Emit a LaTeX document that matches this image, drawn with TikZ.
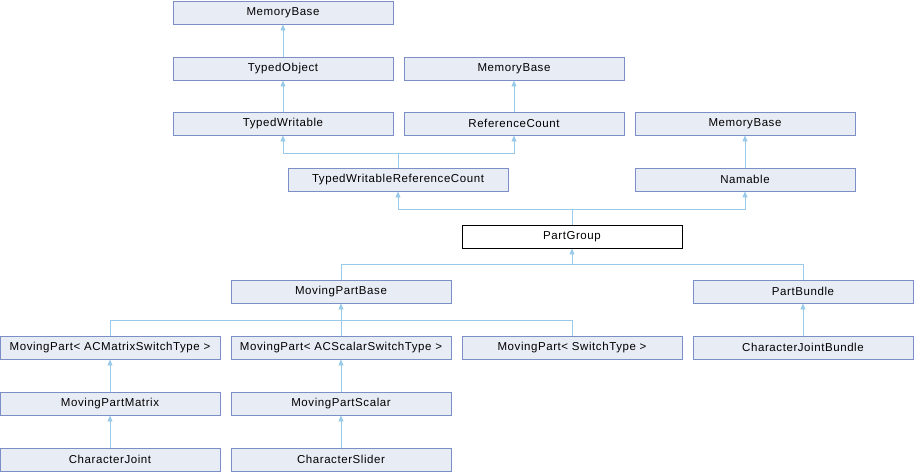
\documentclass[tikz,border=0pt]{standalone}
\usepackage{fontspec}
\setmainfont{Liberation Sans}[LetterSpace=5]
\usetikzlibrary{arrows.meta}
\definecolor{boxfill}{HTML}{E8ECF5}
\definecolor{boxdraw}{HTML}{7B8FC6}
\definecolor{edgecol}{HTML}{9ACAEA}
\begin{document}
\begin{tikzpicture}[x=1pt,y=-1pt,
  cls/.style={draw=boxdraw,fill=boxfill,line width=0.9pt,minimum width=220pt,minimum height=23pt,inner sep=0pt,font=\fontsize{11.5}{13}\selectfont},
  cur/.style={cls,draw=black,fill=white},
  inh/.style={draw=edgecol,line width=0.9pt,-{Triangle[width=5pt,length=6pt]}},
  ln/.style={draw=edgecol,line width=0.9pt}]
\useasboundingbox (0,0) rectangle (914,472);
\node[cls] (mb1) at (283,12.5) {MemoryBase};
\node[cls] (tobj) at (283,68.5) {TypedObject};
\node[cls] (mb2) at (514,68.5) {MemoryBase};
\node[cls] (tw) at (283,123.5) {TypedWritable};
\node[cls] (rc) at (514,123.5) {ReferenceCount};
\node[cls] (mb3) at (745,123.5) {MemoryBase};
\node[cls] (twrc) at (398,179.5) {TypedWritableReferenceCount};
\node[cls] (nam) at (745,179.5) {Namable};
\node[cur] (pg) at (572,236.5) {PartGroup};
\node[cls] (mpb) at (341,291.5) {MovingPartBase};
\node[cls] (pb) at (803,291.5) {PartBundle};
\node[cls] (mp1) at (110,347.5) {MovingPart< ACMatrixSwitchType >};
\node[cls] (mp2) at (341,347.5) {MovingPart< ACScalarSwitchType >};
\node[cls] (mp3) at (572,347.5) {MovingPart< SwitchType >};
\node[cls] (cjb) at (803,347.5) {CharacterJointBundle};
\node[cls] (mpm) at (110,403.5) {MovingPartMatrix};
\node[cls] (mps) at (341,403.5) {MovingPartScalar};
\node[cls] (cj) at (110,459.5) {CharacterJoint};
\node[cls] (cs) at (341,459.5) {CharacterSlider};
\coordinate (j1) at (398,153);
\coordinate (j2) at (572,209);
\coordinate (j3) at (572,264);
\coordinate (j4) at (341,320);
\draw[inh] (tobj.north) -- (mb1.south);
\draw[inh] (tw.north) -- (tobj.south);
\draw[inh] (rc.north) -- (mb2.south);
\draw[inh] (nam.north) -- (mb3.south);
\draw[ln] (twrc.north) -- (j1);
\draw[inh] (j1) -| (tw.south);
\draw[inh] (j1) -| (rc.south);
\draw[ln] (pg.north) -- (j2);
\draw[inh] (j2) -| (twrc.south);
\draw[inh] (j2) -| (nam.south);
\draw[ln] (mpb.north) |- (j3);
\draw[ln] (pb.north) |- (j3);
\draw[inh] (j3) -- (pg.south);
\draw[inh] (cjb.north) -- (pb.south);
\draw[ln] (mp1.north) |- (j4);
\draw[ln] (mp3.north) |- (j4);
\draw[ln] (mp2.north) -- (j4);
\draw[inh] (j4) -- (mpb.south);
\draw[inh] (mpm.north) -- (mp1.south);
\draw[inh] (cj.north) -- (mpm.south);
\draw[inh] (mps.north) -- (mp2.south);
\draw[inh] (cs.north) -- (mps.south);
\end{tikzpicture}
\end{document}
